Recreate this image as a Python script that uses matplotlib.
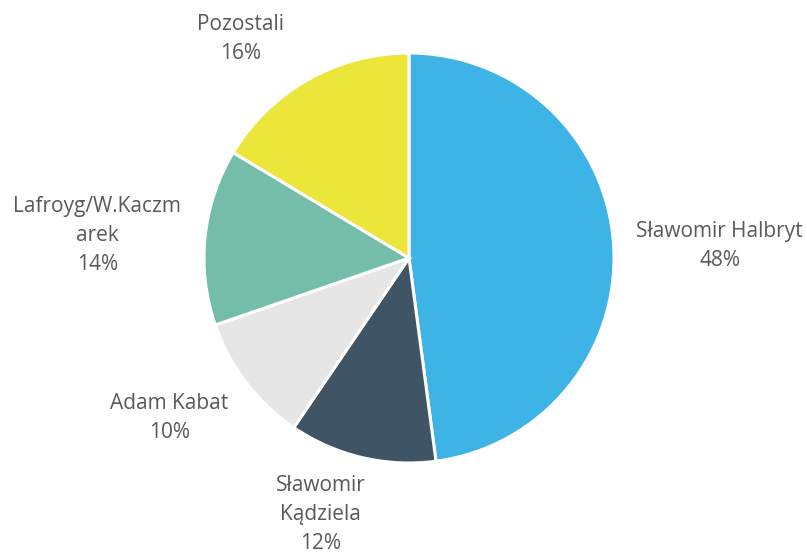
import matplotlib.pyplot as plt

names = ["Sławomir Halbryt", "Sławomir\nKądziela", "Adam Kabat", "Lafroyg/W.Kaczm\narek", "Pozostali"]
shares = [47.9, 11.6, 10.2, 13.9, 16.4]
colors = ["#3DB4E5", "#3F5464", "#E6E6E6", "#74BEA9", "#EDE63A"]

# label block centres, in pie radius units
label_xy = [(1.515, 0.06), (-0.43, -1.25), (-1.17, -0.78), (-1.52, 0.112), (-0.82, 1.07)]

W, H = 807, 554
cx, cy, r = 409, 258, 205

fig = plt.figure(figsize=(W / 100, H / 100), dpi=100)
ax = fig.add_axes([(cx - r) / W, (H - cy - r) / H, 2 * r / W, 2 * r / H])

ax.pie(shares, colors=colors, startangle=90, counterclock=False, radius=1,
       wedgeprops=dict(edgecolor="white", linewidth=2.2))

for name, val, (x, y) in zip(names, shares, label_xy):
    ax.text(x, y, f"{name}\n{round(val)}%", ha="center", va="center", fontsize=15,
            color="#595959", family="Open Sans", linespacing=1.5)

ax.set_xlim(-1, 1)
ax.set_ylim(-1, 1)
ax.set_aspect("equal")
ax.axis("off")

fig.savefig("out.png", dpi=100)
